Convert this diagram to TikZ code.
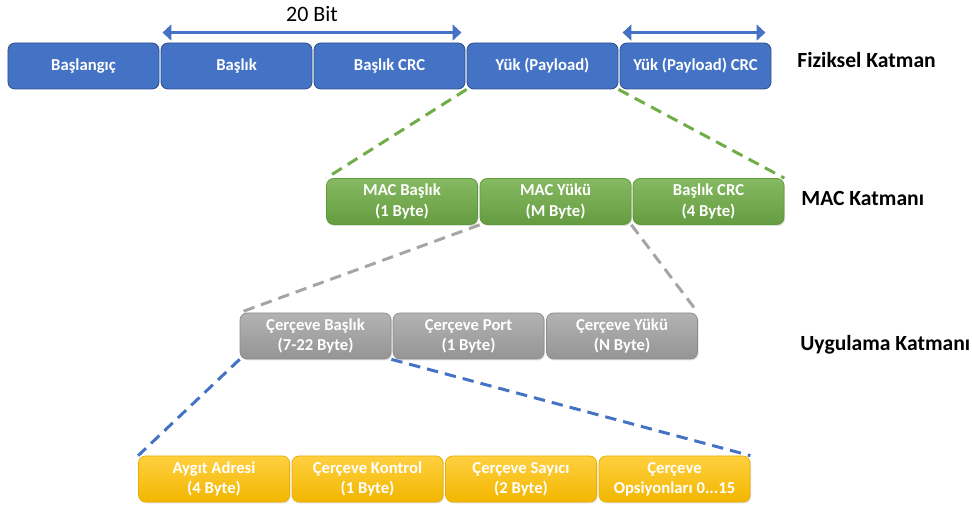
\documentclass[tikz,border=0pt]{standalone}
\usepackage{fontspec}
\setmainfont{Carlito}
\usepackage{tikz}
\usetikzlibrary{arrows.meta,positioning,shadows}
\definecolor{pblue}{HTML}{4472C4}
\definecolor{pblueline}{HTML}{2F528F}
\definecolor{pgreen}{HTML}{70AD47}
\definecolor{pgreenline}{HTML}{5E9A3A}
\definecolor{pgray}{HTML}{A5A5A5}
\definecolor{pgrayline}{HTML}{8C8C8C}
\definecolor{porange}{HTML}{FFC000}
\definecolor{porangeline}{HTML}{E8AE00}

\begin{document}
\begin{tikzpicture}[
  field/.style={rounded corners=4pt, minimum width=3.02cm, minimum height=0.92cm, inner sep=0pt,
    font=\fontsize{9.5}{11.5}\selectfont\bfseries, align=center, text=white},
  physbox/.style={field, draw=pblueline, fill=pblue, line width=0.5pt},
  macbox/.style={field, draw=pgreenline, top color=pgreen!85!white, bottom color=pgreen!90!black,
    line width=0.4pt, drop shadow={opacity=0.25, shadow xshift=0.6pt, shadow yshift=-0.8pt}},
  appbox/.style={field, draw=pgrayline, top color=pgray!85!white, bottom color=pgray!90!black,
    line width=0.4pt, drop shadow={opacity=0.25, shadow xshift=0.6pt, shadow yshift=-0.8pt}},
  hdrbox/.style={field, draw=porangeline, top color=porange!75!white, bottom color=porange!95!black,
    line width=0.4pt, drop shadow={opacity=0.25, shadow xshift=0.6pt, shadow yshift=-0.8pt}},
  layer/.style={anchor=west, inner sep=0pt, font=\fontsize{12.3}{14}\selectfont\bfseries},
  span/.style={{Triangle[width=9pt,length=5pt]}-{Triangle[width=9pt,length=5pt]}, line width=1.5pt, pblue},
  zoomline/.style={dash pattern=on 6.5pt off 4pt, line width=1.7pt}
]
  \useasboundingbox (0,0) rectangle (19.44,10.08);

  %--- Physical layer ---
  \node[physbox] (start)   at (1.67,8.76)  {Başlangıç};
  \node[physbox] (hdr)     at (4.73,8.76)  {Başlık};
  \node[physbox] (hdrcrc)  at (7.79,8.76)  {Başlık CRC};
  \node[physbox] (payload) at (10.85,8.76) {Yük (Payload)};
  \node[physbox] (paycrc)  at (13.91,8.76) {Yük (Payload) CRC};
  \node[layer] (physlbl) at (15.94,8.88) {Fiziksel Katman};

  % Bit spans
  \draw[span] ([xshift=0.04cm,yshift=0.2cm]hdr.north west) -- node[above=2pt, text=black, font=\fontsize{12.5}{14}\selectfont] {20 Bit}
    ([xshift=-0.08cm,yshift=0.2cm]hdrcrc.north east);
  \draw[span] ([xshift=0.06cm,yshift=0.2cm]paycrc.north west) -- ([xshift=-0.12cm,yshift=0.2cm]paycrc.north east);

  %--- MAC layer ---
  \node[macbox] (machdr) at (8.04,6.05)  {MAC Başlık\\(1 Byte)};
  \node[macbox] (macpay) at (11.11,6.05) {MAC Yükü\\(M Byte)};
  \node[macbox] (maccrc) at (14.17,6.05) {Başlık CRC\\(4 Byte)};
  \node[layer] (maclbl) at (16.02,6.12) {MAC Katmanı};

  \draw[zoomline, pgreen] (payload.south west) -- (machdr.north west);
  \draw[zoomline, pgreen] (payload.south east) -- (maccrc.north east);

  %--- Application layer ---
  \node[appbox] (framehdr)  at (6.31,3.36)  {Çerçeve Başlık\\(7-22 Byte)};
  \node[appbox] (frameport) at (9.37,3.36)  {Çerçeve Port\\(1 Byte)};
  \node[appbox] (framepay)  at (12.44,3.36) {Çerçeve Yükü\\(N Byte)};
  \node[layer] (applbl) at (16.0,3.18) {Uygulama Katmanı};

  \draw[zoomline, pgray] (macpay.south west) -- (framehdr.north west);
  \draw[zoomline, pgray] (macpay.south east) -- (framepay.north east);

  %--- Frame header fields ---
  \node[hdrbox] (devaddr) at (4.28,0.5)  {Aygıt Adresi\\(4 Byte)};
  \node[hdrbox] (fctrl)   at (7.35,0.5)  {Çerçeve Kontrol\\(1 Byte)};
  \node[hdrbox] (fcnt)    at (10.42,0.5) {Çerçeve Sayıcı\\(2 Byte)};
  \node[hdrbox] (fopts)   at (13.49,0.5) {Çerçeve\\Opsiyonları 0...15};

  \draw[zoomline, pblue] (framehdr.south west) -- (devaddr.north west);
  \draw[zoomline, pblue] (framehdr.south east) -- (fopts.north east);
\end{tikzpicture}
\end{document}
